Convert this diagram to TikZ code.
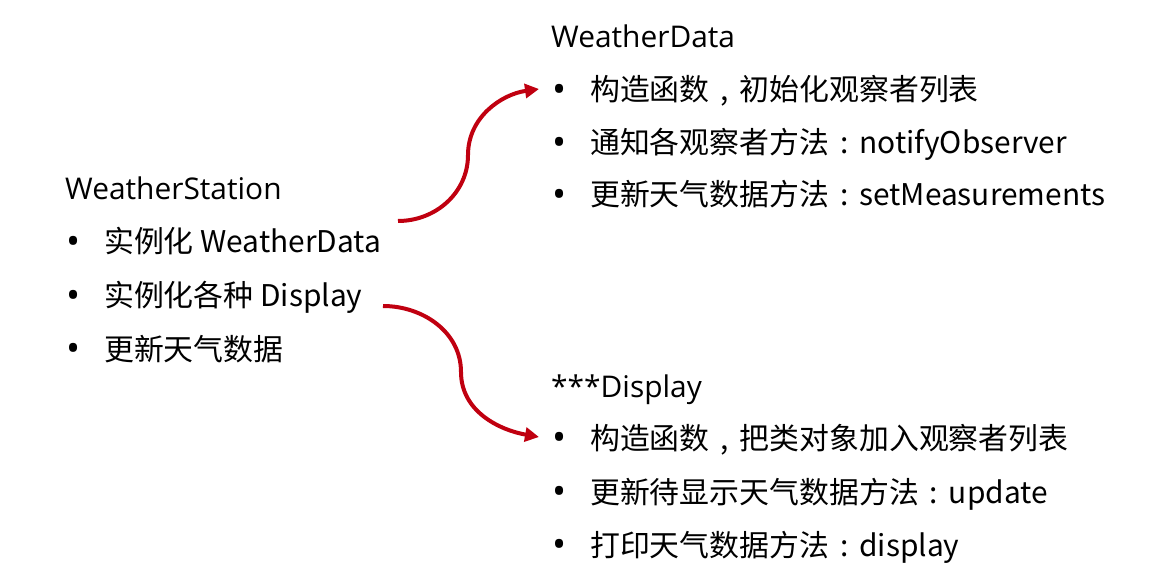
\documentclass[tikz,border=0pt]{standalone}
\usepackage{fontspec}
\setmainfont{Open Sans}
\newfontfamily\cjk{Noto Sans CJK SC}
\usetikzlibrary{arrows.meta}
\definecolor{arrowred}{RGB}{192,0,16}
\tikzset{
  txt/.style={anchor=base west, inner sep=0pt, font=\fontsize{30}{34}\selectfont},
  bul/.style={txt},
  flow/.style={draw=arrowred, line width=4bp, -{Triangle[length=14bp,width=14bp]}},
}
\newcommand{\bl}[1]{\makebox[39bp][l]{\hspace{1bp}\raisebox{-1.5bp}{\scalebox{1.25}{•}}}#1}
\newcommand{\fw}[1]{\makebox[30bp][c]{#1}}
\begin{document}
\begin{tikzpicture}[x=1bp,y=-1bp]
\useasboundingbox (0,0) rectangle (1162,582);
% left
\node[txt] (ws) at (65,200) {WeatherStation};
\node[bul] (ws1) at (65,253) {\bl{\cjk 实例化 }WeatherData};
\node[bul] (ws2) at (65,307) {\bl{\cjk 实例化各种 }Display};
\node[bul] (ws3) at (65,360) {\bl{\cjk 更新天气数据}};
% top right
\node[txt] (wd) at (551,48) {WeatherData};
\node[bul] (wd1) at (551,101) {\bl{\cjk 构造函数\fw{,}初始化观察者列表}};
\node[bul] (wd2) at (551,154) {\bl{\cjk 通知各观察者方法\fw{:}}notifyObserver};
\node[bul] (wd3) at (551,206) {\bl{\cjk 更新天气数据方法\fw{:}}setMeasurements};
% bottom right
\node[txt] (dp) at (551,397) {***Display};
\node[bul] (dp1) at (551,449) {\bl{\cjk 构造函数\fw{,}把类对象加入观察者列表}};
\node[bul] (dp2) at (551,503) {\bl{\cjk 更新待显示天气数据方法\fw{:}}update};
\node[bul] (dp3) at (551,556) {\bl{\cjk 打印天气数据方法\fw{:}}display};
% connector ends
\coordinate (s1) at (398,221);
\coordinate (e1) at (539,89);
\coordinate (s2) at (383,306);
\coordinate (e2) at (539,437);
\draw[flow] (s1) to[out=0,in=-90] (468,155) to[out=90,in=188] (e1);
\draw[flow] (s2) to[out=0,in=90] (461,372) to[out=-90,in=170] (e2);
\end{tikzpicture}
\end{document}
